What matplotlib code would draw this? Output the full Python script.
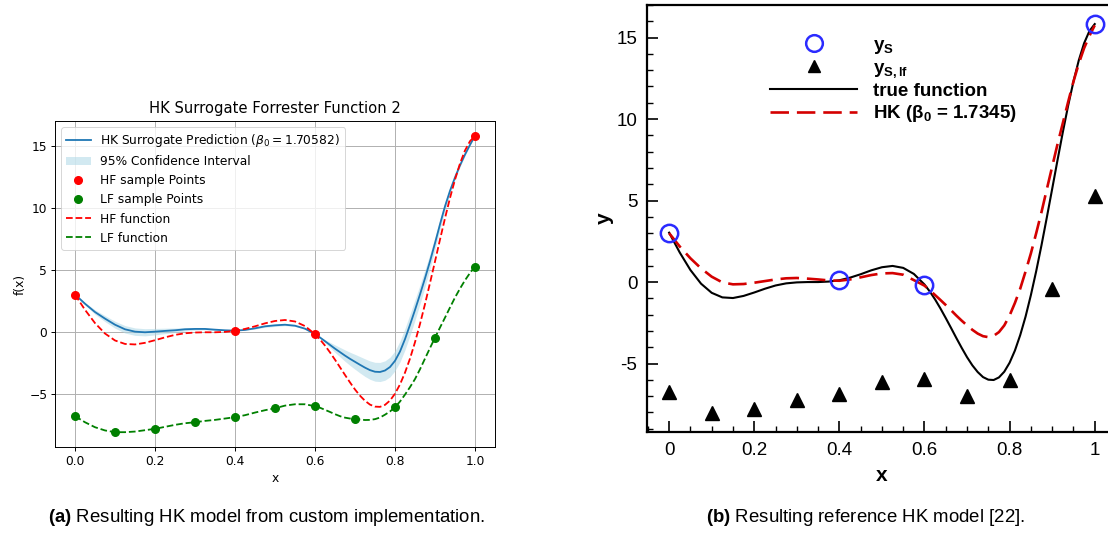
import numpy as np
import matplotlib
matplotlib.use("Agg")
import matplotlib.pyplot as plt
from matplotlib.lines import Line2D
from matplotlib.patches import Patch
from matplotlib.ticker import MultipleLocator, FuncFormatter

plt.rcParams['mathtext.rm'] = 'Liberation Sans'
plt.rcParams['mathtext.bf'] = 'Liberation Sans:bold'
plt.rcParams['mathtext.it'] = 'Liberation Sans:italic'

# ---------------- data ----------------
x_grid = [0.0, 0.025, 0.05, 0.075, 0.1, 0.125, 0.15, 0.175, 0.2, 0.225, 0.25,
          0.275, 0.3, 0.325, 0.35, 0.375, 0.4, 0.425, 0.45, 0.475, 0.5,
          0.525, 0.55, 0.575,
          0.6, 0.6125, 0.625, 0.6375, 0.65, 0.6625, 0.675, 0.6875, 0.7, 0.7125,
          0.725, 0.7375, 0.75, 0.7625, 0.775, 0.7875, 0.8, 0.8125, 0.825, 0.8375,
          0.85, 0.8625, 0.875, 0.8875, 0.9, 0.9125, 0.925, 0.9375, 0.95, 0.9625,
          0.975, 0.9875, 1.0]

hf_function = [3.03, 1.81, 0.74, -0.10, -0.66, -0.94, -0.98, -0.85, -0.64, -0.41, -0.21,
               -0.08, -0.02, 0.00, 0.00, 0.03, 0.11, 0.27, 0.48, 0.72, 0.91,
               0.99, 0.87, 0.50,
               -0.15, -0.58, -1.07, -1.62, -2.21, -2.82, -3.44, -4.04, -4.61, -5.11,
               -5.52, -5.83, -5.99, -6.01, -5.85, -5.50, -4.95, -4.20, -3.25, -2.12,
               -0.80, 0.67, 2.27, 3.97, 5.71, 7.47, 9.19, 10.82, 12.30, 13.60,
               14.65, 15.40, 15.83]

lf_function = [-6.76, -7.25, -7.65, -7.91, -8.05, -8.05, -8.00, -7.89, -7.78, -7.62, -7.46,
               -7.33, -7.25, -7.14, -7.06, -6.95, -6.84, -6.68, -6.47, -6.28, -6.12,
               -5.91, -5.80, -5.80,
               -5.96, -6.08, -6.25, -6.42, -6.60, -6.76, -6.88, -6.95, -6.98, -7.03,
               -7.07, -7.06, -7.00, -6.87, -6.64, -6.38, -6.04, -5.58, -5.02, -4.42,
               -3.77, -2.98, -2.12, -1.27, -0.43, 0.38, 1.18, 2.00, 2.80, 3.52,
               4.19, 4.78, 5.30]

hk_custom = [3.05, 2.30, 1.63, 1.10, 0.61, 0.24, 0.05, 0.00, 0.05, 0.11, 0.16,
             0.24, 0.27, 0.27, 0.21, 0.16, 0.13, 0.19, 0.32, 0.48, 0.56,
             0.61, 0.53, 0.29,
             -0.15, -0.42, -0.72, -1.02, -1.32, -1.60, -1.88, -2.14, -2.38, -2.62,
             -2.85, -3.05, -3.18, -3.20, -3.08, -2.80, -2.30, -1.55, -0.55, 0.60,
             1.80, 3.05, 4.35, 5.72, 7.18, 8.70, 10.15, 11.40, 12.48, 13.45,
             14.32, 15.10, 15.83]

ci_half = [0.0, 0.10, 0.18, 0.24, 0.28, 0.30, 0.30, 0.29, 0.26, 0.22, 0.18,
           0.14, 0.10, 0.07, 0.05, 0.02, 0.0, 0.03, 0.06, 0.08, 0.09,
           0.08, 0.06, 0.03,
           0.0, 0.06, 0.13, 0.21, 0.30, 0.38, 0.46, 0.53, 0.60, 0.66,
           0.71, 0.74, 0.76, 0.77, 0.78, 0.79, 0.80, 0.84, 0.86, 0.86,
           0.83, 0.77, 0.70, 0.60, 0.50, 0.42, 0.34, 0.26, 0.19, 0.13,
           0.08, 0.04, 0.0]

hk_reference = [3.00, 2.18, 1.46, 0.84, 0.33, -0.02, -0.14, -0.12, -0.04, 0.06, 0.16,
                0.23, 0.25, 0.21, 0.16, 0.10, 0.08, 0.16, 0.29, 0.43, 0.53,
                0.55, 0.45, 0.12,
                -0.22, -0.50, -0.80, -1.10, -1.41, -1.73, -2.06, -2.37, -2.66, -2.93,
                -3.16, -3.32, -3.38, -3.30, -3.07, -2.66, -2.05, -1.28, -0.40, 0.65,
                1.76, 3.00, 4.30, 5.70, 7.08, 8.45, 9.75, 11.05, 12.30, 13.40,
                14.35, 15.10, 15.75]

hf_x = [0.0, 0.4, 0.6, 1.0]
hf_y = [3.03, 0.11, -0.15, 15.83]

lf_x = [0.0, 0.1, 0.2, 0.3, 0.4, 0.5, 0.6, 0.7, 0.8, 0.9, 1.0]
lf_y = [-6.76, -8.05, -7.78, -7.25, -6.84, -6.12, -5.96, -6.98, -6.04, -0.43, 5.29]

beta_custom = 1.70582
beta_ref = 1.7345

# ---------------- figure ----------------
W, H = 1108, 533
fig = plt.figure(figsize=(W / 100, H / 100), dpi=100)

def ax_rect(l, t, r, b):
    return [l / W, 1 - b / H, (r - l) / W, (b - t) / H]

# ---- left panel (matplotlib style, scaled) ----
fs = 8.85
axL = fig.add_axes(ax_rect(55, 121, 495, 447))
xg = np.array(x_grid)
hk = np.array(hk_custom)
ci = np.array(ci_half)
axL.plot(xg, hk, color='#1f77b4', lw=1.3, zorder=3)
axL.fill_between(xg, hk - ci, hk + ci, color='lightblue', alpha=0.55, lw=0, zorder=2)
axL.scatter(hf_x, hf_y, color='red', s=30, zorder=4)
axL.scatter(lf_x, lf_y, color='green', s=30, zorder=4)
axL.plot(xg, hf_function, color='red', ls='--', lw=1.3, zorder=3)
axL.plot(xg, lf_function, color='green', ls='--', lw=1.3, zorder=3)
axL.grid(True, lw=0.7)
axL.set_axisbelow(True)
axL.set_title('HK Surrogate Forrester Function 2', fontsize=10.6, pad=6)
axL.set_xlabel('x', fontsize=fs, labelpad=3)
axL.set_ylabel('f(x)', fontsize=fs, labelpad=2)
axL.tick_params(labelsize=fs, width=0.7, length=3, pad=2.5)
for s in axL.spines.values():
    s.set_linewidth(0.7)
handlesL = [Line2D([], [], color='#1f77b4', lw=1.3),
            Patch(facecolor='lightblue', alpha=0.55, lw=0),
            Line2D([], [], color='red', marker='o', ls='none', ms=5.5),
            Line2D([], [], color='green', marker='o', ls='none', ms=5.5),
            Line2D([], [], color='red', ls='--', lw=1.3),
            Line2D([], [], color='green', ls='--', lw=1.3)]
labelsL = [r'HK Surrogate Prediction ($\beta_0 = %.5f$)' % beta_custom,
           '95% Confidence Interval', 'HF sample Points', 'LF sample Points',
           'HF function', 'LF function']
legL = axL.legend(handlesL, labelsL, loc='upper left', fontsize=fs, framealpha=0.8)
legL.get_frame().set_linewidth(0.7)

# ---- right panel (Tecplot style) ----
axR = fig.add_axes(ax_rect(647, 5, 1116, 432))
hrx = np.array(x_grid)
axR.plot(hrx, hf_function, color='black', lw=1.5, zorder=2)
axR.plot(hrx, hk_reference, color='#d40000', lw=1.9, dashes=(7, 3), zorder=3)
axR.plot(lf_x, lf_y, ls='none', marker='^', color='black', ms=9.5, zorder=4)
axR.plot(hf_x, hf_y, ls='none', marker='o', mfc='none', mec='#2b2bff', ms=12.5, mew=1.8, zorder=5)
axR.set_xlim(-0.052, 1.05)
axR.set_ylim(-9.2, 17.0)
axR.xaxis.set_major_locator(MultipleLocator(0.2))
axR.xaxis.set_minor_locator(MultipleLocator(0.05))
axR.yaxis.set_major_locator(MultipleLocator(5))
axR.yaxis.set_minor_locator(MultipleLocator(1))
fmt = FuncFormatter(lambda v, p: f"{v:g}")
axR.xaxis.set_major_formatter(fmt)
axR.yaxis.set_major_formatter(fmt)
axR.tick_params(which='major', direction='in', length=8, width=1.2, labelsize=13.5, pad=7)
axR.tick_params(which='minor', direction='in', length=4.5, width=1.0)
for lab in axR.get_xticklabels() + axR.get_yticklabels():
    lab.set_family('Liberation Sans')
for s in axR.spines.values():
    s.set_linewidth(1.6)
axR.set_xlabel('x', fontsize=15, fontweight='bold', family='Liberation Sans', labelpad=5)
axR.set_ylabel('y', fontsize=15, fontweight='bold', family='Liberation Sans', labelpad=2)

handlesR = [Line2D([], [], ls='none', marker='o', mfc='none', mec='#2b2bff', ms=12, mew=1.8),
            Line2D([], [], ls='none', marker='^', color='black', ms=9),
            Line2D([], [], color='black', lw=1.5),
            Line2D([], [], color='#d40000', lw=1.9, dashes=(7, 3))]
labelsR = [r'$\mathbf{y}_\mathbf{S}$', r'$\mathbf{y}_\mathbf{S,lf}$', 'true function',
           r'HK (β$_\mathbf{0}$ = %.4f)' % beta_ref]
legR = axR.legend(handlesR, labelsR, loc='upper left', bbox_to_anchor=(761 / W, 1 - 27.5 / H),
                  bbox_transform=fig.transFigure, frameon=False, borderpad=0,
                  handlelength=4.64, handletextpad=0.85, labelspacing=0.18,
                  prop=dict(family='Liberation Sans', weight='bold', size=13.5))
for t in legR.get_texts():
    t.set_math_fontfamily('custom')

# ---- captions ----
fig.text(267 / W, 1 - 518 / H, r'$\mathbf{(a)}$ Resulting HK model from custom implementation.',
         ha='center', va='center', fontsize=13.4, family='Liberation Sans', math_fontfamily='custom')
fig.text(866 / W, 1 - 518 / H, r'$\mathbf{(b)}$ Resulting reference HK model [22].',
         ha='center', va='center', fontsize=13.4, family='Liberation Sans', math_fontfamily='custom')

fig.savefig('out.png', dpi=100)
